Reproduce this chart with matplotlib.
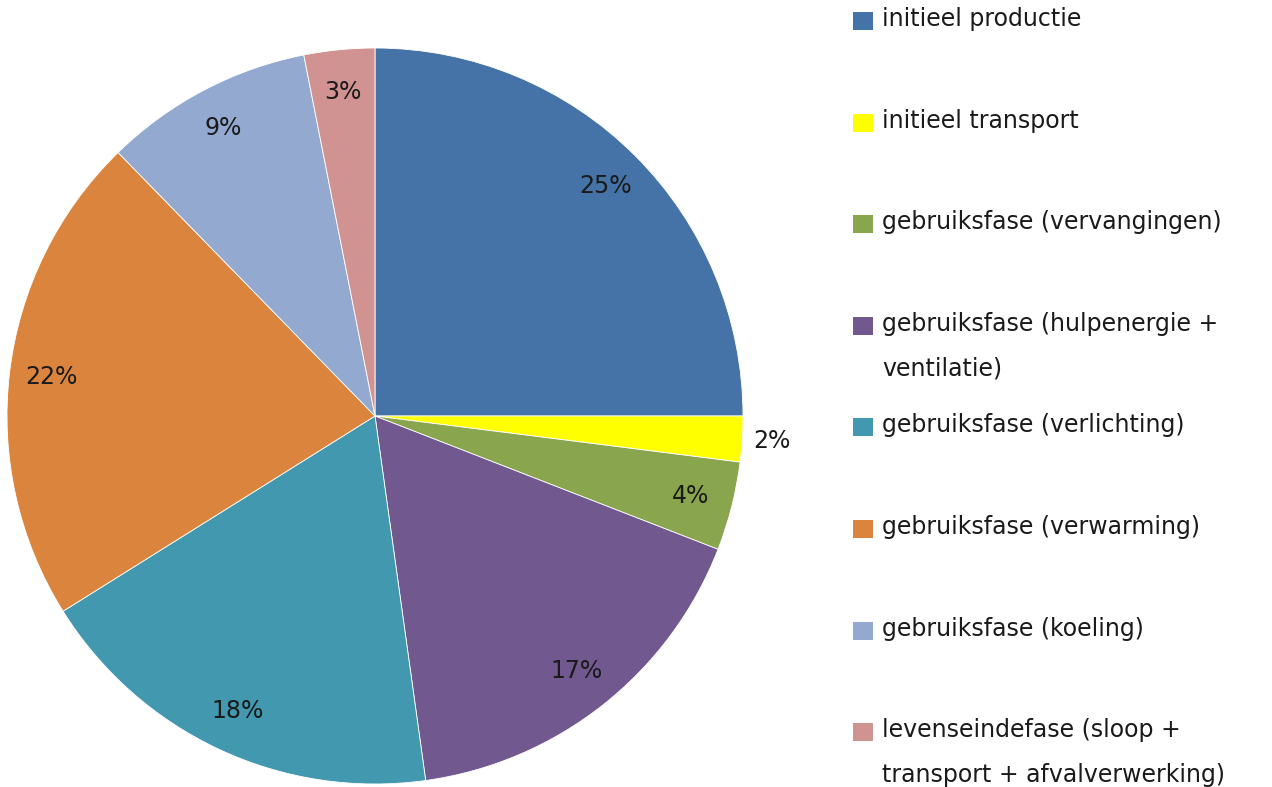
import numpy as np
import matplotlib
matplotlib.use("Agg")
import matplotlib.pyplot as plt
from matplotlib.patches import Rectangle

categories = [
    "initieel productie",
    "initieel transport",
    "gebruiksfase (vervangingen)",
    "gebruiksfase (hulpenergie +\nventilatie)",
    "gebruiksfase (verlichting)",
    "gebruiksfase (verwarming)",
    "gebruiksfase (koeling)",
    "levenseindefase (sloop +\ntransport + afvalverwerking)",
]
values = [25.0, 2.0, 3.9, 16.9, 18.3, 21.6, 9.2, 3.1]
colors = ["#4572A7", "#FFFF00", "#89A54E", "#71588F",
          "#4198AF", "#DB843D", "#93A9CF", "#D19392"]

plt.rcParams['font.family'] = ['DejaVu Sans']
W, H = 1272, 787
fig = plt.figure(figsize=(W / 100, H / 100), dpi=100)

cx, cy, R = 375, 416, 368
ax = fig.add_axes([(cx - R) / W, (H - cy - R) / H, 2 * R / W, 2 * R / H])

wedges, texts, autotexts = ax.pie(
    values, colors=colors, startangle=90, counterclock=False, radius=1,
    autopct=lambda p: f"{p:.0f}%", pctdistance=0.885,
    wedgeprops=dict(edgecolor="white", linewidth=0.6),
    textprops=dict(fontsize=17, color="#1a1a1a"))
ax.set_xlim(-1, 1)
ax.set_ylim(-1, 1)
ax.set_aspect('equal')
ax.axis('off')

# small slice label outside
w = wedges[1]
ang = np.deg2rad((w.theta1 + w.theta2) / 2)
autotexts[1].set_position((1.08 * np.cos(ang), 1.08 * np.sin(ang)))

# legend drawn on the figure
x_box, x_text = 853, 882
y0, step = 21, 101.6
for i, (lab, col) in enumerate(zip(categories, colors)):
    y = y0 + i * step
    fig.patches.append(Rectangle((x_box / W, (H - y - 9) / H), 20 / W, 18 / H,
                                 transform=fig.transFigure, facecolor=col,
                                 edgecolor="none"))
    fig.text(x_text / W, (H - y + 14) / H, lab, fontsize=17, color="#1a1a1a",
             ha="left", va="top", linespacing=2.1)

fig.savefig("out.png", dpi=100)
